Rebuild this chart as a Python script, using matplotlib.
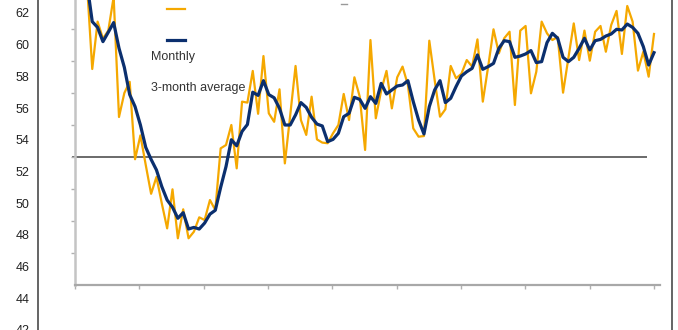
import matplotlib.pyplot as plt
from matplotlib.lines import Line2D
import numpy as np

plt.rcParams['font.family'] = ['Liberation Sans', 'DejaVu Sans']

# monthly index (ticks every 12 months)
months = np.arange(109)

# monthly reading (first points run off the top of the chart)
monthly = [64.5, 64.2, 63.9, 58.5, 61.46, 60.4, 60.9, 63.0, 55.5, 57.0,
           57.7, 52.86, 54.35, 52.5, 50.7, 51.75, 50.1, 48.54, 50.98, 47.92,
           49.73, 47.92, 48.33, 49.23, 49.06, 50.31, 49.69, 53.54, 53.75, 55.0,
           52.29, 56.46, 56.4, 58.38, 55.7, 59.31, 55.73, 55.2, 57.23, 52.6,
           55.6, 58.69, 55.31, 54.38, 56.77, 54.1, 53.9, 53.86, 54.48, 55.0,
           56.94, 55.31, 57.98, 56.77, 53.44, 60.31, 55.42, 57.15, 58.38, 56.04,
           57.98, 58.65, 57.5, 54.79, 54.27, 54.31, 60.27, 57.81, 55.52, 55.98,
           58.69, 57.92, 58.2, 59.06, 58.65, 60.35, 56.46, 58.65, 60.98, 59.48,
           60.42, 60.83, 56.25, 60.9, 61.19, 56.98, 58.33, 61.46, 60.73, 60.31,
           60.5, 57.02, 59.2, 61.35, 59.06, 60.9, 59.02, 60.83, 61.19, 59.58,
           61.25, 62.13, 59.44, 62.44, 61.46, 58.4, 59.58, 58.02, 60.69]

# 3-month average
avg3 = [64.5, 64.2, 63.9, 61.46, 61.1, 60.21, 60.8, 61.4, 59.8, 58.6,
        56.9, 56.15, 55.0, 53.6, 52.85, 52.19, 51.15, 50.31, 49.86, 49.17,
        49.52, 48.5, 48.6, 48.5, 48.87, 49.43, 49.67, 51.1, 52.4, 54.08,
        53.7, 54.6, 55.03, 57.05, 56.85, 57.77, 56.9, 56.7, 56.04, 55.0,
        55.0, 55.63, 56.4, 56.1, 55.48, 55.06, 54.94, 53.96, 54.1, 54.48,
        55.52, 55.73, 56.73, 56.6, 56.04, 56.77, 56.35, 57.6, 56.94, 57.19,
        57.44, 57.5, 57.77, 56.46, 55.31, 54.44, 56.15, 57.19, 57.77, 56.4,
        56.67, 57.4, 58.06, 58.33, 58.54, 59.38, 58.48, 58.65, 58.85, 59.79,
        60.27, 60.21, 59.23, 59.31, 59.44, 59.65, 58.9, 58.96, 60.15, 60.73,
        60.42, 59.23, 58.96, 59.23, 59.79, 60.42, 59.69, 60.27, 60.35, 60.56,
        60.69, 60.98, 60.94, 61.31, 61.1, 60.73, 59.9, 58.75, 59.52]

threshold = 53
y_labels = list(range(42, 63, 2))
series_names = ['Monthly', '3-month average']
orange = '#F5A800'
navy = '#0B2F6E'

W, H = 678, 330
fig = plt.figure(figsize=(W / 100, H / 100), dpi=100)

# outer frame carrying the value labels
outer = fig.add_axes([38 / W, 0, (672 - 38) / W, 1])
outer.set_facecolor('none')
outer.set_ylim(42.1875, 62.8125)
outer.set_yticks(y_labels)
outer.set_xticks([])
outer.tick_params(axis='y', length=0, pad=6.3, labelsize=9, labelcolor='#222222')
for s in ['top', 'bottom']:
    outer.spines[s].set_visible(False)
for s in ['left', 'right']:
    outer.spines[s].set_color('#4a4a4a')
    outer.spines[s].set_linewidth(1.2)

# inner plot area
ax = fig.add_axes([75 / W, 45 / H, (660 - 75) / W, 285 / H])
ax.set_facecolor('none')
x0, x1 = -0.224, 109.12
ax.set_xlim(x0, x1)
ax.set_ylim(45, 62.8125)
ax.set_yticks(range(47, 62, 2))
ax.set_xticks(np.linspace(x0, 108, 10))
ax.tick_params(length=3, width=1, color='#b0b0b0', labelleft=False, labelbottom=False)
for s in ['top', 'right']:
    ax.spines[s].set_visible(False)
ax.spines['left'].set_color('#c4c4c4')
ax.spines['left'].set_linewidth(1.8)
ax.spines['bottom'].set_color('#a8a8a8')
ax.spines['bottom'].set_linewidth(1.6)

ax.hlines(threshold, -0.78, 106.7, color='#6a6a6a', lw=1.4, clip_on=False, zorder=1)
ax.plot(months, monthly, color=orange, lw=1.6, solid_joinstyle='round', zorder=2)
ax.plot(months, avg3, color=navy, lw=2.3, solid_joinstyle='round', zorder=3)

# legend as drawn in the source (keys and labels offset)
fig.add_artist(Line2D([167 / W, 185 / W], [1 - 9 / H, 1 - 9 / H], color=orange, lw=1.6))
fig.add_artist(Line2D([167 / W, 185 / W], [1 - 40 / H, 1 - 40 / H], color=navy, lw=2.3))
fig.text(151 / W, 1 - 57 / H, series_names[0], fontsize=9, color='#333333', va='center')
fig.text(151 / W, 1 - 88 / H, series_names[1], fontsize=9, color='#333333', va='center')
fig.add_artist(Line2D([341 / W, 347 / W], [1 - 4 / H, 1 - 4 / H], color='#999999', lw=1))

fig.savefig('out.png', dpi=100)
